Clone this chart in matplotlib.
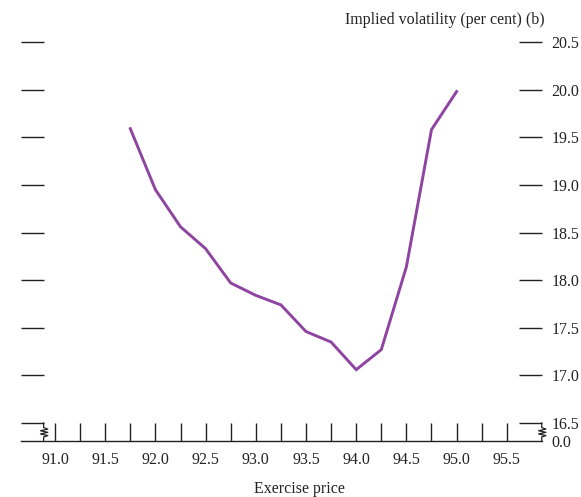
import matplotlib
matplotlib.use("Agg")
import matplotlib.pyplot as plt
import matplotlib.transforms as mtransforms
import numpy as np

# Exercise prices and implied volatilities (per cent)
strikes = [91.75, 92.0, 92.25, 92.5, 92.75, 93.0, 93.25, 93.5, 93.75, 94.0, 94.25, 94.5, 94.75, 95.0]
implied_vol = [19.59, 18.95, 18.56, 18.33, 17.97, 17.84, 17.74, 17.46, 17.35, 17.06, 17.27, 18.14, 19.58, 19.98]

x_major = [91.0, 91.5, 92.0, 92.5, 93.0, 93.5, 94.0, 94.5, 95.0, 95.5]
x_labels = ["91.0", "91.5", "92.0", "92.5", "93.0", "93.5", "94.0", "94.5", "95.0", "95.5"]
y_ticks = [16.5, 17.0, 17.5, 18.0, 18.5, 19.0, 19.5, 20.0, 20.5]
y_labels = ["16.5", "17.0", "17.5", "18.0", "18.5", "19.0", "19.5", "20.0", "20.5"]

plt.rcParams["font.family"] = ["Liberation Serif", "DejaVu Serif"]
FS = 11.5
INK = "#222222"

fig = plt.figure(figsize=(5.81, 4.97), dpi=100)
ax = fig.add_axes([0.0361, 0.1127, 0.8963, 0.8219])

ax.plot(strikes, implied_vol, color="#8e44a0", lw=2.1, solid_joinstyle="miter")

# Axis break: the bottom of the scale sits just below 16.5 and reads 0.0
y_bottom = 16.311
ax.set_xlim(90.661, 95.848)
ax.set_ylim(y_bottom, 20.6)

for side in ("top", "left", "right"):
    ax.spines[side].set_visible(False)
ax.spines["bottom"].set_color(INK)
ax.spines["bottom"].set_linewidth(1.0)

# x ticks: labelled every 0.5, unlabelled every 0.25
ax.set_xticks(x_major)
ax.set_xticklabels(x_labels)
ax.set_xticks(np.arange(91.25, 95.5, 0.5), minor=True)
ax.tick_params(axis="x", which="both", direction="in", length=13, width=1.0,
               color=INK, pad=8, labelsize=FS, labelcolor=INK)

# y ticks on both sides, labels only on the right
ax.set_yticks([y_bottom] + y_ticks)
ax.set_yticklabels(["0.0"] + y_labels)
ax.tick_params(axis="y", which="major", direction="in", length=16.5, width=1.0,
               color=INK, left=True, right=True, labelleft=False, labelright=True,
               pad=7, labelsize=FS, labelcolor=INK)
first = ax.yaxis.get_major_ticks()[0]
first.tick1line.set_visible(False)
first.tick2line.set_visible(False)

# zigzag break markers between 16.5 and the axis line
trans = mtransforms.blended_transform_factory(ax.transAxes, ax.transData)
span = 16.5 - y_bottom
zig_y = 16.5 - span * np.array([0.0, 0.25, 0.34, 0.43, 0.52, 0.61, 0.70, 0.78, 1.0])
for x0 in (0.0435, 1.0):
    zig_x = x0 + np.array([0, 0, 0.008, -0.006, 0.008, -0.006, 0.008, 0, 0])
    ax.plot(zig_x, zig_y, color=INK, lw=0.9, transform=trans, clip_on=False)

fig.text(545 / 581, 1 - 20 / 497, "Implied volatility (per cent) (b)",
         ha="right", va="center", fontsize=FS, color=INK)
fig.text(299 / 581, 1 - 489 / 497, "Exercise price",
         ha="center", va="center", fontsize=FS, color=INK)

fig.savefig("out.png", dpi=100)
